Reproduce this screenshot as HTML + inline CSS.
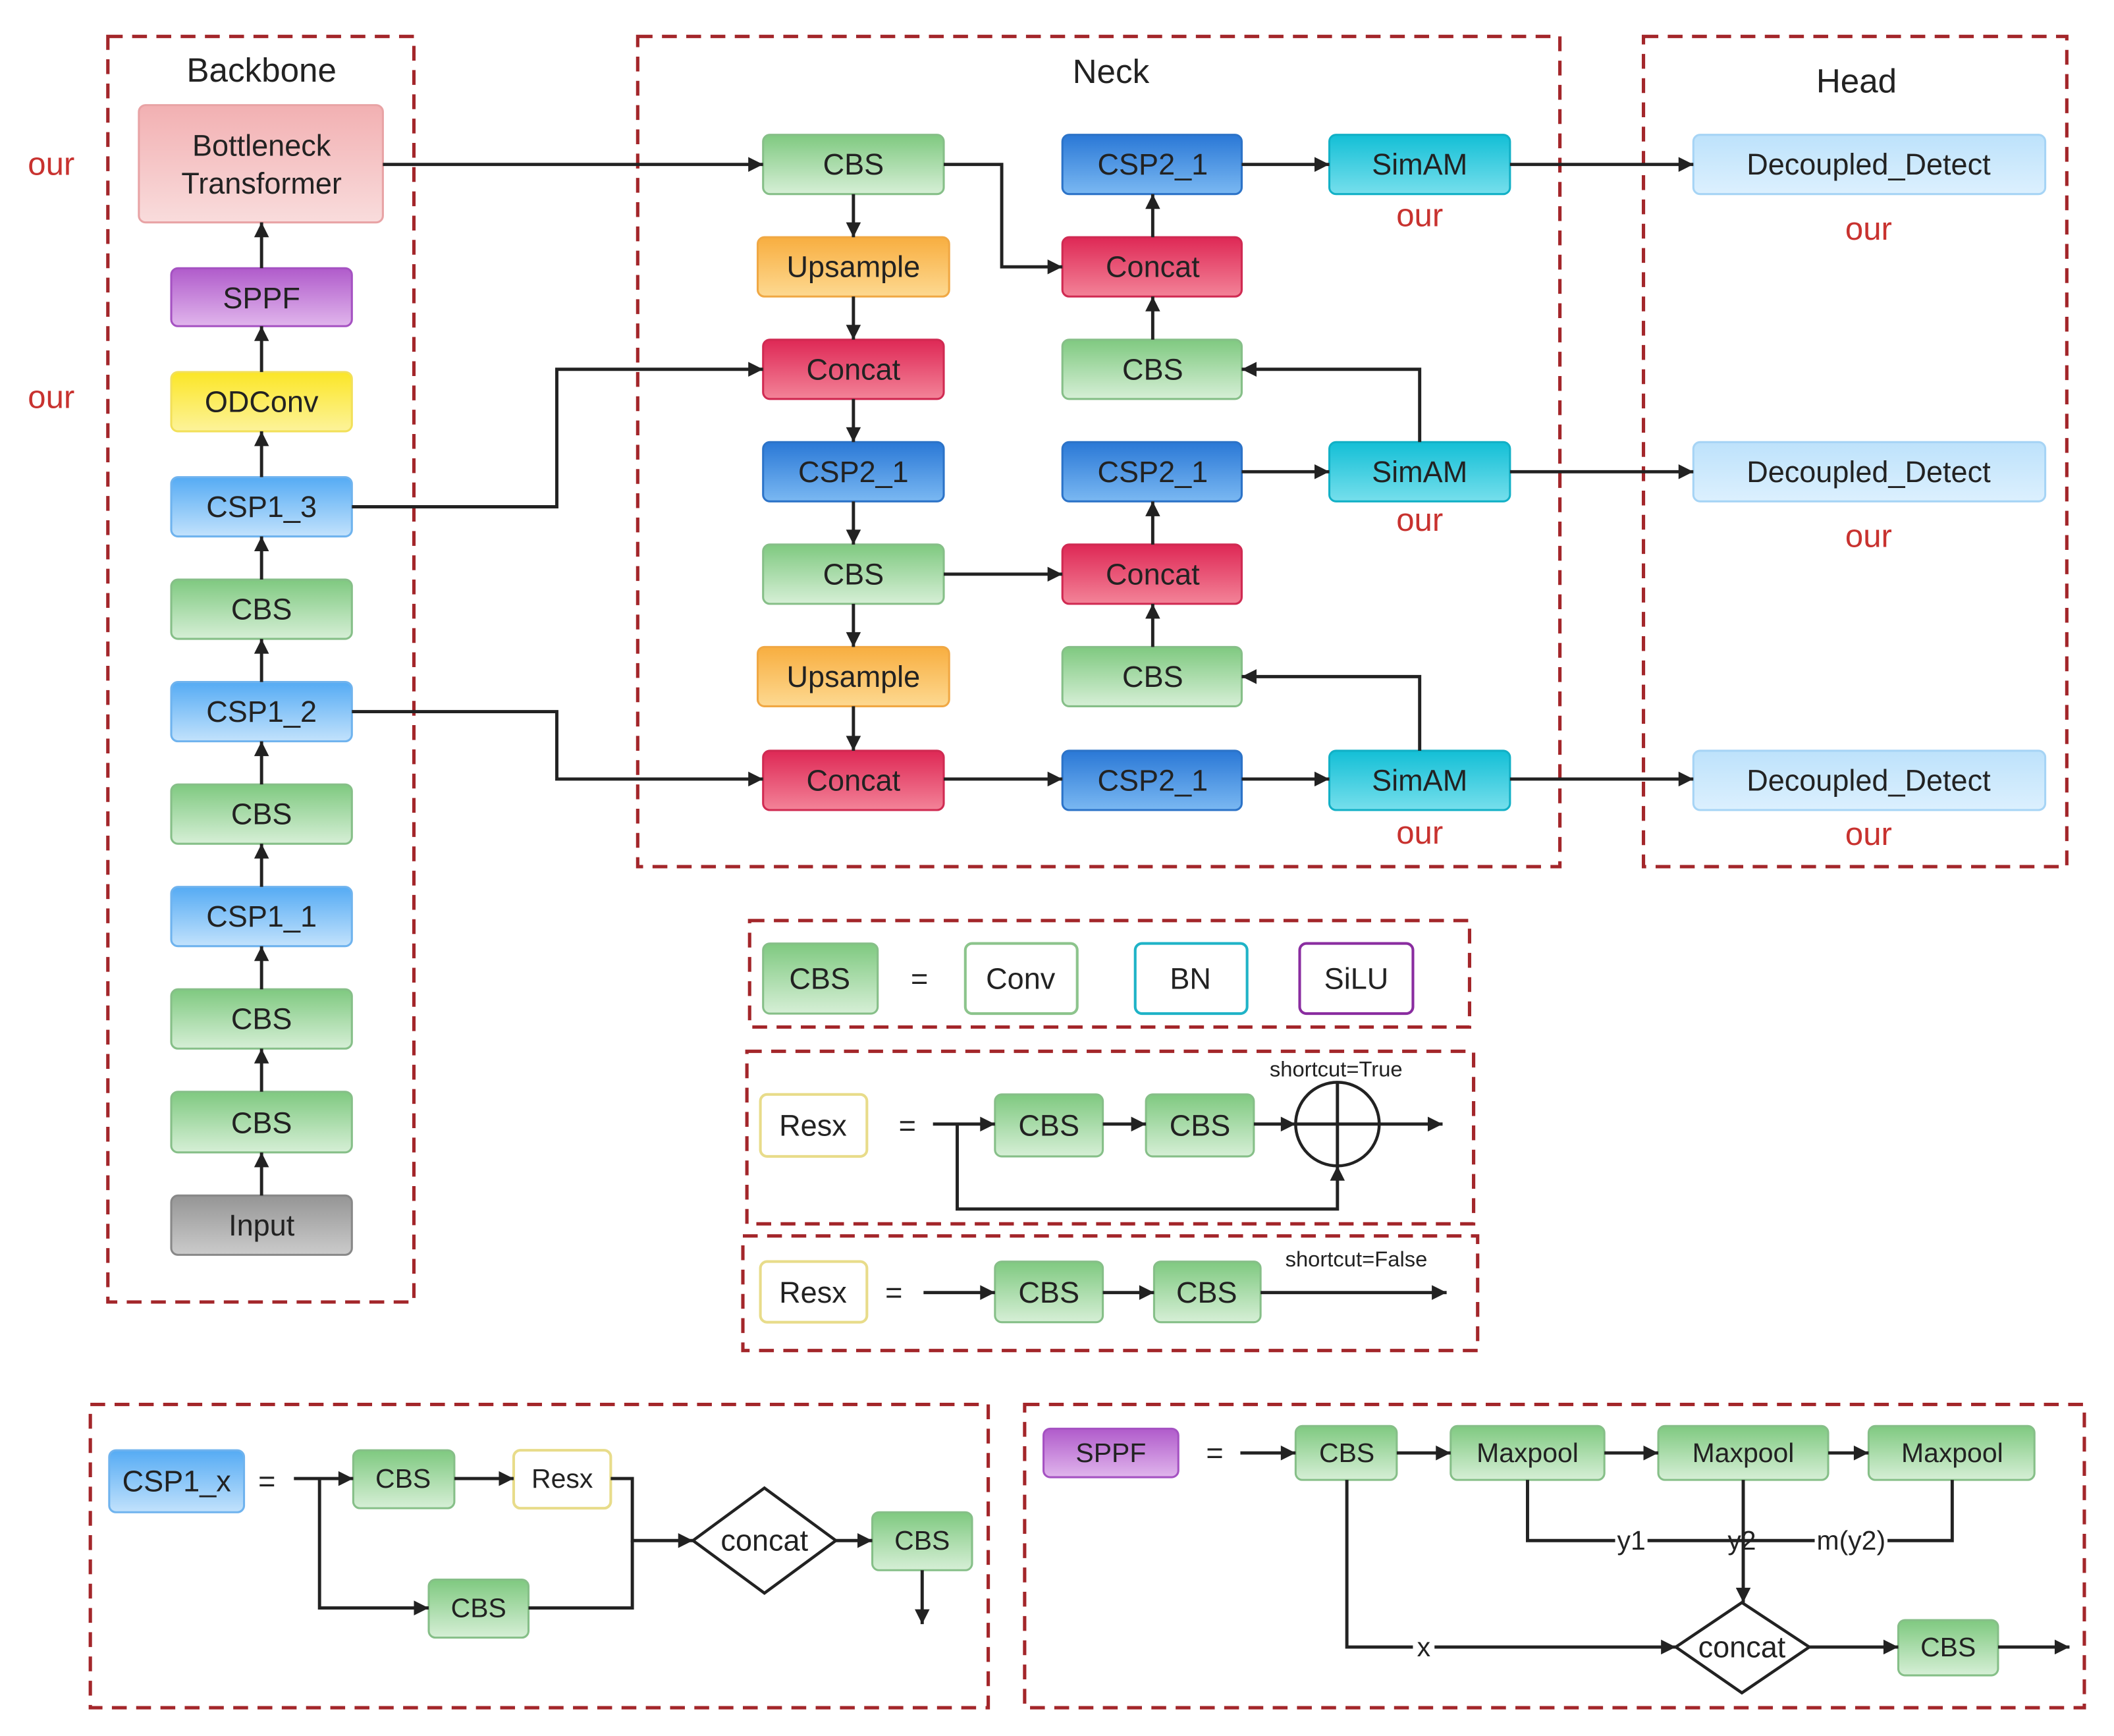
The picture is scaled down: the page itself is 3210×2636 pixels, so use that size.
<!DOCTYPE html>
<html><head><meta charset="utf-8"><style>
html,body{margin:0;padding:0;background:#fff}
svg{display:block}
text{font-family:"Liberation Sans",sans-serif;fill:#222;text-anchor:middle;dominant-baseline:central}
.n{font-size:22px}
.r{fill:#c8322f;font-size:24px}
.box{fill:none;stroke:#a3262a;stroke-width:2.5;stroke-dasharray:11 7}
.l{fill:none;stroke:#222;stroke-width:2.4}
</style></head><body>
<svg width="3210" height="2636" viewBox="0 0 1568 1288" preserveAspectRatio="none" xmlns="http://www.w3.org/2000/svg">
<defs>
<marker id="a" viewBox="0 0 10 10" refX="10" refY="5" markerWidth="13" markerHeight="11" markerUnits="userSpaceOnUse" orient="auto"><path d="M0,0 L10,5 L0,10z" fill="#222"/></marker>
<linearGradient id="gG" x1="0" y1="0" x2="0" y2="1"><stop offset="0" stop-color="#7fc980"/><stop offset="1" stop-color="#d6efd6"/></linearGradient>
<linearGradient id="gB" x1="0" y1="0" x2="0" y2="1"><stop offset="0" stop-color="#55abf4"/><stop offset="1" stop-color="#c2e2fc"/></linearGradient>
<linearGradient id="gD" x1="0" y1="0" x2="0" y2="1"><stop offset="0" stop-color="#2a78d6"/><stop offset="1" stop-color="#7ab8f2"/></linearGradient>
<linearGradient id="gR" x1="0" y1="0" x2="0" y2="1"><stop offset="0" stop-color="#de2855"/><stop offset="1" stop-color="#f38398"/></linearGradient>
<linearGradient id="gO" x1="0" y1="0" x2="0" y2="1"><stop offset="0" stop-color="#f8ae40"/><stop offset="1" stop-color="#fdd991"/></linearGradient>
<linearGradient id="gC" x1="0" y1="0" x2="0" y2="1"><stop offset="0" stop-color="#13bfd6"/><stop offset="1" stop-color="#76dfec"/></linearGradient>
<linearGradient id="gL" x1="0" y1="0" x2="0" y2="1"><stop offset="0" stop-color="#bde2fb"/><stop offset="1" stop-color="#dcf0fe"/></linearGradient>
<linearGradient id="gP" x1="0" y1="0" x2="0" y2="1"><stop offset="0" stop-color="#b05bcb"/><stop offset="1" stop-color="#e0b5ec"/></linearGradient>
<linearGradient id="gY" x1="0" y1="0" x2="0" y2="1"><stop offset="0" stop-color="#fbe626"/><stop offset="1" stop-color="#fdf39a"/></linearGradient>
<linearGradient id="gK" x1="0" y1="0" x2="0" y2="1"><stop offset="0" stop-color="#f2b0b2"/><stop offset="1" stop-color="#f9dcdc"/></linearGradient>
<linearGradient id="gI" x1="0" y1="0" x2="0" y2="1"><stop offset="0" stop-color="#959595"/><stop offset="1" stop-color="#cbcbcb"/></linearGradient>
</defs>

<rect class="box" x="80" y="27" width="227" height="939"/>
<rect class="box" x="473" y="27" width="684" height="616"/>
<rect class="box" x="1219" y="27" width="314" height="616"/>
<rect class="box" x="556" y="683" width="534" height="79"/>
<rect class="box" x="554" y="780" width="539" height="128"/>
<rect class="box" x="551" y="917" width="545" height="85"/>
<rect class="box" x="67" y="1042" width="666" height="225"/>
<rect class="box" x="760" y="1042" width="786" height="225"/>

<text x="194" y="52" style="font-size:25px">Backbone</text>
<text x="824" y="53" style="font-size:25px">Neck</text>
<text x="1377" y="60" style="font-size:25px">Head</text>
<text class="r" x="38" y="122">our</text>
<text class="r" x="38" y="295">our</text>

<g stroke-width="1.5">
<rect x="103" y="78" width="181" height="87" rx="5" fill="url(#gK)" stroke="#e8a3a5"/>
<rect x="127" y="199" width="134" height="43" rx="5" fill="url(#gP)" stroke="#a552c2"/>
<rect x="127" y="276" width="134" height="44" rx="5" fill="url(#gY)" stroke="#f2e05a"/>
<rect x="127" y="354" width="134" height="44" rx="5" fill="url(#gB)" stroke="#6fb3ee"/>
<rect x="127" y="430" width="134" height="44" rx="5" fill="url(#gG)" stroke="#86bf88"/>
<rect x="127" y="506" width="134" height="44" rx="5" fill="url(#gB)" stroke="#6fb3ee"/>
<rect x="127" y="582" width="134" height="44" rx="5" fill="url(#gG)" stroke="#86bf88"/>
<rect x="127" y="658" width="134" height="44" rx="5" fill="url(#gB)" stroke="#6fb3ee"/>
<rect x="127" y="734" width="134" height="44" rx="5" fill="url(#gG)" stroke="#86bf88"/>
<rect x="127" y="810" width="134" height="45" rx="5" fill="url(#gG)" stroke="#86bf88"/>
<rect x="127" y="887" width="134" height="44" rx="5" fill="url(#gI)" stroke="#888"/>
</g>
<text class="n" x="194" y="108">Bottleneck</text>
<text class="n" x="194" y="136">Transformer</text>
<text class="n" x="194" y="221">SPPF</text>
<text class="n" x="194" y="298">ODConv</text>
<text class="n" x="194" y="376">CSP1_3</text>
<text class="n" x="194" y="452">CBS</text>
<text class="n" x="194" y="528">CSP1_2</text>
<text class="n" x="194" y="604">CBS</text>
<text class="n" x="194" y="680">CSP1_1</text>
<text class="n" x="194" y="756">CBS</text>
<text class="n" x="194" y="833">CBS</text>
<text class="n" x="194" y="909">Input</text>
<g class="l" marker-end="url(#a)">
<line x1="194" y1="887" x2="194" y2="855"/>
<line x1="194" y1="810" x2="194" y2="778"/>
<line x1="194" y1="734" x2="194" y2="702"/>
<line x1="194" y1="658" x2="194" y2="626"/>
<line x1="194" y1="582" x2="194" y2="550"/>
<line x1="194" y1="506" x2="194" y2="474"/>
<line x1="194" y1="430" x2="194" y2="398"/>
<line x1="194" y1="354" x2="194" y2="320"/>
<line x1="194" y1="276" x2="194" y2="242"/>
<line x1="194" y1="199" x2="194" y2="165"/>
</g>

<g stroke-width="1.5">
<rect x="566" y="100" width="134" height="44" rx="5" fill="url(#gG)" stroke="#86bf88"/>
<rect x="562" y="176" width="142" height="44" rx="5" fill="url(#gO)" stroke="#f0a844"/>
<rect x="566" y="252" width="134" height="44" rx="5" fill="url(#gR)" stroke="#d02a52"/>
<rect x="566" y="328" width="134" height="44" rx="5" fill="url(#gD)" stroke="#2c73c8"/>
<rect x="566" y="404" width="134" height="44" rx="5" fill="url(#gG)" stroke="#86bf88"/>
<rect x="562" y="480" width="142" height="44" rx="5" fill="url(#gO)" stroke="#f0a844"/>
<rect x="566" y="557" width="134" height="44" rx="5" fill="url(#gR)" stroke="#d02a52"/>
<rect x="788" y="100" width="133" height="44" rx="5" fill="url(#gD)" stroke="#2c73c8"/>
<rect x="788" y="176" width="133" height="44" rx="5" fill="url(#gR)" stroke="#d02a52"/>
<rect x="788" y="252" width="133" height="44" rx="5" fill="url(#gG)" stroke="#86bf88"/>
<rect x="788" y="328" width="133" height="44" rx="5" fill="url(#gD)" stroke="#2c73c8"/>
<rect x="788" y="404" width="133" height="44" rx="5" fill="url(#gR)" stroke="#d02a52"/>
<rect x="788" y="480" width="133" height="44" rx="5" fill="url(#gG)" stroke="#86bf88"/>
<rect x="788" y="557" width="133" height="44" rx="5" fill="url(#gD)" stroke="#2c73c8"/>
<rect x="986" y="100" width="134" height="44" rx="5" fill="url(#gC)" stroke="#12b0c6"/>
<rect x="986" y="328" width="134" height="44" rx="5" fill="url(#gC)" stroke="#12b0c6"/>
<rect x="986" y="557" width="134" height="44" rx="5" fill="url(#gC)" stroke="#12b0c6"/>
<rect x="1256" y="100" width="261" height="44" rx="5" fill="url(#gL)" stroke="#a6d4f5"/>
<rect x="1256" y="328" width="261" height="44" rx="5" fill="url(#gL)" stroke="#a6d4f5"/>
<rect x="1256" y="557" width="261" height="44" rx="5" fill="url(#gL)" stroke="#a6d4f5"/>
</g>
<text class="n" x="633" y="122">CBS</text>
<text class="n" x="633" y="198">Upsample</text>
<text class="n" x="633" y="274">Concat</text>
<text class="n" x="633" y="350">CSP2_1</text>
<text class="n" x="633" y="426">CBS</text>
<text class="n" x="633" y="502">Upsample</text>
<text class="n" x="633" y="579">Concat</text>
<text class="n" x="855" y="122">CSP2_1</text>
<text class="n" x="855" y="198">Concat</text>
<text class="n" x="855" y="274">CBS</text>
<text class="n" x="855" y="350">CSP2_1</text>
<text class="n" x="855" y="426">Concat</text>
<text class="n" x="855" y="502">CBS</text>
<text class="n" x="855" y="579">CSP2_1</text>
<text class="n" x="1053" y="122">SimAM</text>
<text class="n" x="1053" y="350">SimAM</text>
<text class="n" x="1053" y="579">SimAM</text>
<text class="n" x="1386" y="122">Decoupled_Detect</text>
<text class="n" x="1386" y="350">Decoupled_Detect</text>
<text class="n" x="1386" y="579">Decoupled_Detect</text>
<text class="r" x="1053" y="160">our</text>
<text class="r" x="1053" y="386">our</text>
<text class="r" x="1053" y="618">our</text>
<text class="r" x="1386" y="170">our</text>
<text class="r" x="1386" y="398">our</text>
<text class="r" x="1386" y="619">our</text>

<g class="l" marker-end="url(#a)">
<line x1="284" y1="122" x2="566" y2="122"/>
<polyline points="700,122 743,122 743,198 788,198"/>
<polyline points="261,376 413,376 413,274 566,274"/>
<polyline points="261,528 413,528 413,578 566,578"/>
<line x1="633" y1="144" x2="633" y2="176"/>
<line x1="633" y1="220" x2="633" y2="252"/>
<line x1="633" y1="296" x2="633" y2="328"/>
<line x1="633" y1="372" x2="633" y2="404"/>
<line x1="633" y1="448" x2="633" y2="480"/>
<line x1="633" y1="524" x2="633" y2="557"/>
<line x1="700" y1="426" x2="788" y2="426"/>
<line x1="700" y1="578" x2="788" y2="578"/>
<line x1="921" y1="578" x2="986" y2="578"/>
<line x1="921" y1="350" x2="986" y2="350"/>
<line x1="921" y1="122" x2="986" y2="122"/>
<line x1="1120" y1="122" x2="1256" y2="122"/>
<line x1="1120" y1="350" x2="1256" y2="350"/>
<line x1="1120" y1="578" x2="1256" y2="578"/>
<polyline points="1053,557 1053,502 921,502"/>
<polyline points="1053,328 1053,274 921,274"/>
<line x1="855" y1="480" x2="855" y2="448"/>
<line x1="855" y1="404" x2="855" y2="372"/>
<line x1="855" y1="252" x2="855" y2="220"/>
<line x1="855" y1="176" x2="855" y2="144"/>
</g>

<rect x="566" y="700" width="85" height="52" rx="5" fill="url(#gG)" stroke="#86bf88" stroke-width="1.5"/>
<text class="n" x="608" y="726">CBS</text>
<text class="n" x="682" y="726">=</text>
<rect x="716" y="700" width="83" height="52" rx="5" fill="#fff" stroke="#8cc48c" stroke-width="2"/>
<text class="n" x="757" y="726">Conv</text>
<rect x="842" y="700" width="83" height="52" rx="5" fill="#fff" stroke="#1fb3c7" stroke-width="2"/>
<text class="n" x="883" y="726">BN</text>
<rect x="964" y="700" width="84" height="52" rx="5" fill="#fff" stroke="#8a2da0" stroke-width="2"/>
<text class="n" x="1006" y="726">SiLU</text>

<rect x="564" y="812" width="79" height="46" rx="5" fill="#fff" stroke="#e8dc8a" stroke-width="2"/>
<text class="n" x="603" y="835">Resx</text>
<text class="n" x="673" y="835">=</text>
<rect x="738" y="812" width="80" height="46" rx="5" fill="url(#gG)" stroke="#86bf88" stroke-width="1.5"/>
<text class="n" x="778" y="835">CBS</text>
<rect x="850" y="812" width="80" height="46" rx="5" fill="url(#gG)" stroke="#86bf88" stroke-width="1.5"/>
<text class="n" x="890" y="835">CBS</text>
<circle cx="992" cy="834" r="31" fill="none" stroke="#222" stroke-width="2.2"/>
<line class="l" x1="992" y1="803" x2="992" y2="865"/>
<text x="991" y="793" style="font-size:16px">shortcut=True</text>
<g class="l" marker-end="url(#a)">
<line x1="692" y1="834" x2="738" y2="834"/>
<line x1="818" y1="834" x2="850" y2="834"/>
<line x1="930" y1="834" x2="961" y2="834"/>
<line x1="961" y1="834" x2="1070" y2="834"/>
<polyline points="710,834 710,897 992,897 992,865"/>
</g>

<rect x="564" y="936" width="79" height="45" rx="5" fill="#fff" stroke="#e8dc8a" stroke-width="2"/>
<text class="n" x="603" y="959">Resx</text>
<text class="n" x="663" y="959">=</text>
<rect x="738" y="936" width="80" height="45" rx="5" fill="url(#gG)" stroke="#86bf88" stroke-width="1.5"/>
<text class="n" x="778" y="959">CBS</text>
<rect x="856" y="936" width="79" height="45" rx="5" fill="url(#gG)" stroke="#86bf88" stroke-width="1.5"/>
<text class="n" x="895" y="959">CBS</text>
<text x="1006" y="934" style="font-size:16px">shortcut=False</text>
<g class="l" marker-end="url(#a)">
<line x1="685" y1="959" x2="738" y2="959"/>
<line x1="818" y1="959" x2="856" y2="959"/>
<line x1="935" y1="959" x2="1073" y2="959"/>
</g>

<rect x="81" y="1076" width="100" height="46" rx="5" fill="url(#gB)" stroke="#6fb3ee" stroke-width="1.5"/>
<text class="n" x="131" y="1099">CSP1_x</text>
<text class="n" x="198" y="1099">=</text>
<rect x="262" y="1076" width="75" height="43" rx="5" fill="url(#gG)" stroke="#86bf88" stroke-width="1.5"/>
<text style="font-size:20px" x="299" y="1097">CBS</text>
<rect x="381" y="1076" width="72" height="43" rx="5" fill="#fff" stroke="#e8dc8a" stroke-width="2"/>
<text style="font-size:20px" x="417" y="1097">Resx</text>
<rect x="318" y="1172" width="74" height="43" rx="5" fill="url(#gG)" stroke="#86bf88" stroke-width="1.5"/>
<text style="font-size:20px" x="355" y="1193">CBS</text>
<polygon points="567,1104 620,1143 567,1182 514,1143" fill="#fff" stroke="#222" stroke-width="2.2"/>
<text class="n" x="567" y="1143">concat</text>
<rect x="647" y="1122" width="74" height="43" rx="5" fill="url(#gG)" stroke="#86bf88" stroke-width="1.5"/>
<text style="font-size:20px" x="684" y="1143">CBS</text>
<g class="l" marker-end="url(#a)">
<line x1="218" y1="1097" x2="262" y2="1097"/>
<polyline points="237,1097 237,1193 318,1193"/>
<line x1="337" y1="1097" x2="381" y2="1097"/>
<polyline points="453,1097 469,1097 469,1143 514,1143"/>
<line x1="620" y1="1143" x2="647" y2="1143"/>
<line x1="684" y1="1165" x2="684" y2="1205"/>
</g>
<polyline class="l" points="392,1193 469,1193 469,1143"/>

<rect x="774" y="1060" width="100" height="36" rx="5" fill="url(#gP)" stroke="#a552c2" stroke-width="1.5"/>
<text style="font-size:20px" x="824" y="1078">SPPF</text>
<text class="n" x="901" y="1078">=</text>
<rect x="961" y="1058" width="75" height="40" rx="5" fill="url(#gG)" stroke="#86bf88" stroke-width="1.5"/>
<text style="font-size:20px" x="999" y="1078">CBS</text>
<rect x="1076" y="1058" width="114" height="40" rx="5" fill="url(#gG)" stroke="#86bf88" stroke-width="1.5"/>
<text style="font-size:20px" x="1133" y="1078">Maxpool</text>
<rect x="1230" y="1058" width="126" height="40" rx="5" fill="url(#gG)" stroke="#86bf88" stroke-width="1.5"/>
<text style="font-size:20px" x="1293" y="1078">Maxpool</text>
<rect x="1386" y="1058" width="123" height="40" rx="5" fill="url(#gG)" stroke="#86bf88" stroke-width="1.5"/>
<text style="font-size:20px" x="1448" y="1078">Maxpool</text>
<polygon points="1292,1189 1342,1222 1292,1256 1243,1222" fill="#fff" stroke="#222" stroke-width="2.2"/>
<text class="n" x="1292" y="1222">concat</text>
<rect x="1408" y="1202" width="74" height="41" rx="5" fill="url(#gG)" stroke="#86bf88" stroke-width="1.5"/>
<text style="font-size:20px" x="1445" y="1222">CBS</text>
<polyline class="l" points="1133,1098 1133,1143 1448,1143 1448,1098"/>
<g class="l" marker-end="url(#a)">
<line x1="920" y1="1078" x2="961" y2="1078"/>
<line x1="1036" y1="1078" x2="1076" y2="1078"/>
<line x1="1190" y1="1078" x2="1230" y2="1078"/>
<line x1="1356" y1="1078" x2="1386" y2="1078"/>
<line x1="1293" y1="1098" x2="1293" y2="1189"/>
<polyline points="999,1098 999,1222 1243,1222"/>
<line x1="1342" y1="1222" x2="1408" y2="1222"/>
<line x1="1482" y1="1222" x2="1535" y2="1222"/>
</g>
<rect x="1198" y="1132" width="24" height="22" fill="#fff"/>
<text style="font-size:20px" x="1210" y="1143">y1</text>
<text style="font-size:20px" x="1292" y="1143">y2</text>
<rect x="1346" y="1132" width="54" height="22" fill="#fff"/>
<text style="font-size:20px" x="1373" y="1143">m(y2)</text>
<rect x="1048" y="1212" width="16" height="20" fill="#fff"/>
<text style="font-size:20px" x="1056" y="1222">x</text>
</svg>
</body></html>
